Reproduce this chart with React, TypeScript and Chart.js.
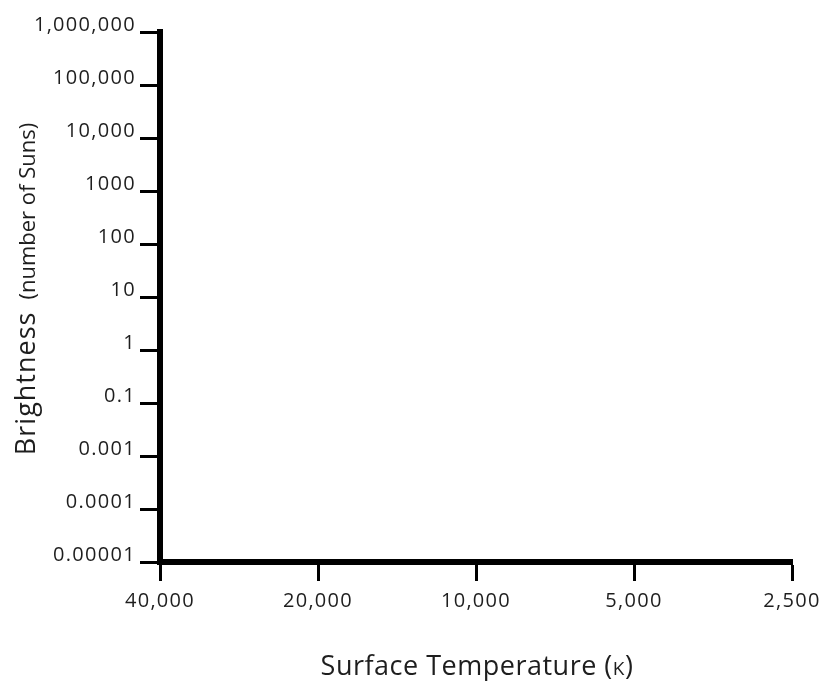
import React, { useEffect, useRef } from 'react';
import { Chart, registerables } from 'chart.js';

Chart.register(...registerables);

// ---- data (text only; the chart is an empty H-R diagram template) ----
const temperatureLabels: string[] = ['40,000', '20,000', '10,000', '5,000', '2,500'];
const brightnessLabels: string[] = [
  '1,000,000', '100,000', '10,000', '1000', '100', '10', '1', '0.1', '0.001', '0.0001', '0.00001',
];
const xTitleParts: string[] = ['Surface Temperature (', 'K', ')'];
const yTitleParts: string[] = ['Brightness', '(number of Suns)'];

const FONT = '"Open Sans", "DejaVu Sans", sans-serif';
const TEXT_COLOR = '#1e1e1e';

function drawParts(
  ctx: CanvasRenderingContext2D,
  parts: string[],
  fonts: string[],
  spacing: string[],
  gap: number,
  cx: number,
  baseY: number,
) {
  const widths = parts.map((p, i) => {
    ctx.font = fonts[i];
    (ctx as any).letterSpacing = spacing[i];
    return ctx.measureText(p).width;
  });
  const total = widths.reduce((a, b) => a + b, 0) + gap * (parts.length - 1);
  let x = cx - total / 2;
  parts.forEach((p, i) => {
    ctx.font = fonts[i];
    (ctx as any).letterSpacing = spacing[i];
    ctx.fillText(p, x, baseY);
    x += widths[i] + gap;
  });
}

const titlesPlugin = {
  id: 'axisTitlesCustom',
  beforeDraw(chart: any) {
    (chart.ctx as any).letterSpacing = '1.3px';
  },
  afterDraw(chart: any) {
    const { ctx } = chart;
    ctx.save();
    ctx.fillStyle = TEXT_COLOR;
    ctx.textAlign = 'left';
    ctx.textBaseline = 'alphabetic';
    // x title
    drawParts(
      ctx,
      xTitleParts,
      [`27px ${FONT}`, `19px ${FONT}`, `27px ${FONT}`],
      ['0.5px', '0.5px', '0.5px'],
      0,
      477,
      675,
    );
    // y title (rotated, reading bottom to top)
    ctx.translate(35, 289);
    ctx.rotate(-Math.PI / 2);
    drawParts(ctx, yTitleParts, [`27px ${FONT}`, `22px ${FONT}`], ['1px', '0px'], 12, 0, 0);
    ctx.restore();
  },
};

export default function App() {
  const canvasRef = useRef<HTMLCanvasElement | null>(null);

  useEffect(() => {
    const canvas = canvasRef.current;
    if (!canvas) return;
    const chart = new Chart(canvas, {
      type: 'line',
      data: {
        labels: temperatureLabels,
        datasets: [],
      },
      plugins: [titlesPlugin],
      options: {
        animation: false,
        responsive: false,
        maintainAspectRatio: false,
        events: [],
        layout: { padding: { top: 32, right: 45, left: 0, bottom: 0 } },
        plugins: {
          legend: { display: false },
          tooltip: { enabled: false },
          title: { display: false },
        },
        scales: {
          x: {
            type: 'category',
            labels: temperatureLabels,
            offset: false,
            afterFit: (scale: any) => {
              scale.height = 119;
            },
            grid: {
              display: true,
              drawOnChartArea: false,
              drawTicks: true,
              tickLength: 19,
              tickWidth: 3,
              tickColor: '#000',
              offset: false,
            },
            border: { display: true, color: '#000', width: 6 },
            ticks: {
              autoSkip: false,
              maxRotation: 0,
              minRotation: 0,
              padding: 8,
              color: TEXT_COLOR,
              font: { family: FONT, size: 20, weight: 500 },
            },
          },
          y: {
            type: 'category',
            labels: brightnessLabels,
            offset: false,
            afterFit: (scale: any) => {
              scale.width = 160;
            },
            grid: {
              display: true,
              drawOnChartArea: false,
              drawTicks: true,
              tickLength: 20,
              tickWidth: 3,
              tickColor: '#000',
              offset: false,
            },
            border: { display: true, color: '#000', width: 6 },
            ticks: {
              autoSkip: false,
              padding: 4,
              labelOffset: -7,
              color: TEXT_COLOR,
              font: { family: FONT, size: 20, weight: 500 },
            },
          },
        },
      },
    });
    return () => chart.destroy();
  }, []);

  return (
    <div style={{ position: 'fixed', left: 0, top: 0, width: 837, height: 681, background: '#fff' }}>
      <canvas ref={canvasRef} width={837} height={681} style={{ display: 'block', width: 837, height: 681 }} />
    </div>
  );
}
